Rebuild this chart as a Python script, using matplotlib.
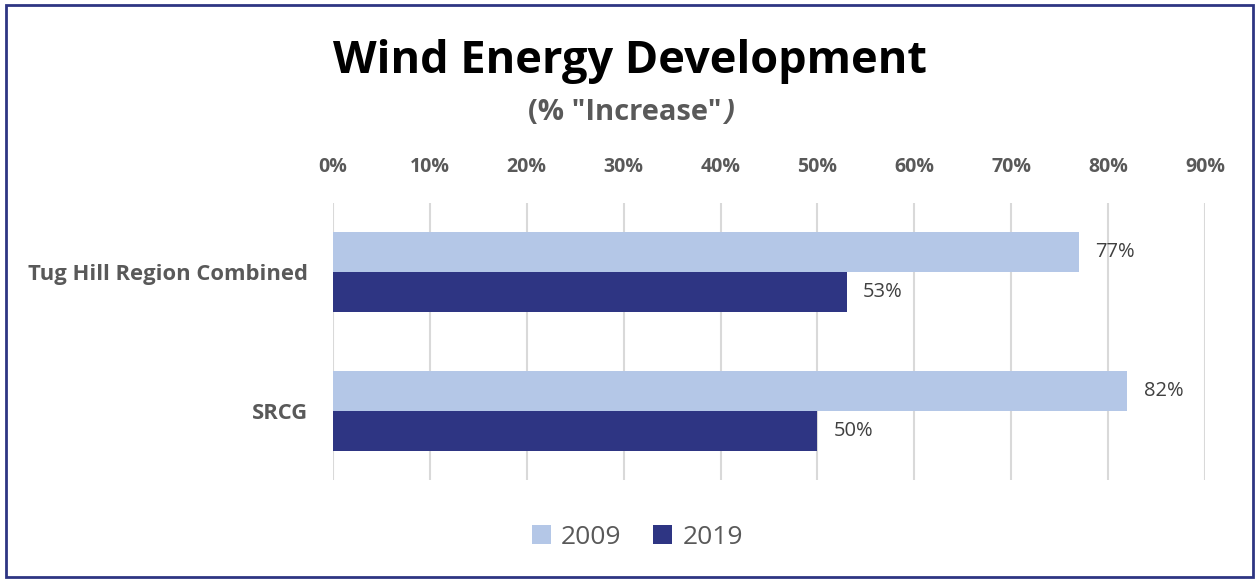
import matplotlib.pyplot as plt
from matplotlib.patches import Rectangle
import numpy as np

plt.rcParams['font.family'] = ['Open Sans', 'DejaVu Sans']

categories = ['Tug Hill Region Combined', 'SRCG']
years = ['2009', '2019']
vals_2009 = [77, 82]
vals_2019 = [53, 50]
xticks = [0, 10, 20, 30, 40, 50, 60, 70, 80, 90]

c2009 = '#b4c7e7'
c2019 = '#2e3583'
gray = '#595959'

fig = plt.figure(figsize=(12.55, 5.79), dpi=100)
ax = fig.add_axes((333 / 1255, 1 - 480 / 579, (1205 - 333) / 1255, (480 - 203) / 579))

y = np.arange(len(categories))
h = 0.288
ax.barh(y - h / 2, vals_2009, height=h, color=c2009, label=years[0], zorder=3)
ax.barh(y + h / 2, vals_2019, height=h, color=c2019, label=years[1], zorder=3)

for yi, v in zip(y, vals_2009):
    ax.text(v + 1.7, yi - h / 2, f'{v}%', va='center', ha='left', fontsize=14.5, color='#404040')
for yi, v in zip(y, vals_2019):
    ax.text(v + 1.7, yi + h / 2, f'{v}%', va='center', ha='left', fontsize=14.5, color='#404040')

ax.set_xlim(0, 90)
ax.set_ylim(1.5, -0.5)
ax.set_xticks(xticks)
ax.set_xticklabels([f'{t}%' for t in xticks], fontsize=14, fontweight='bold', color=gray)
ax.xaxis.tick_top()
ax.tick_params(axis='x', length=0, pad=19)
ax.set_yticks(y)
ax.set_yticklabels(categories, fontsize=15.8, fontweight='bold', color=gray)
ax.tick_params(axis='y', length=0, pad=18)
ax.grid(axis='x', color='#d9d9d9', linewidth=1.5, zorder=0)
for s in ax.spines.values():
    s.set_visible(False)

fig.text(0.502, 1 - 62 / 579, 'Wind Energy Development', ha='center', va='center',
         fontsize=32.5, fontweight='bold', color='black')
sub = fig.text(0.4975, 1 - 113 / 579, '(% "Increase"', ha='center', va='center',
               fontsize=21, fontweight='bold', color=gray)
fig.canvas.draw()
bb = sub.get_window_extent().transformed(fig.transFigure.inverted())
fig.text(bb.x1 + 0.002, 1 - 113 / 579, ')', ha='left', va='center',
         fontsize=21, fontweight='bold', style='italic', color=gray)

leg = fig.legend(loc='center', bbox_to_anchor=(0.508, 1 - 537 / 579), ncol=2, frameon=False,
                 fontsize=19, handlelength=0.7, handleheight=0.7, handletextpad=0.4,
                 columnspacing=1.2)
for t in leg.get_texts():
    t.set_color(gray)

fig.patches.append(Rectangle((6 / 1255, 2 / 579), 1247 / 1255, 572 / 579, transform=fig.transFigure,
                             fill=False, edgecolor='#2e3583', linewidth=2))

fig.savefig('out.png', dpi=100)
